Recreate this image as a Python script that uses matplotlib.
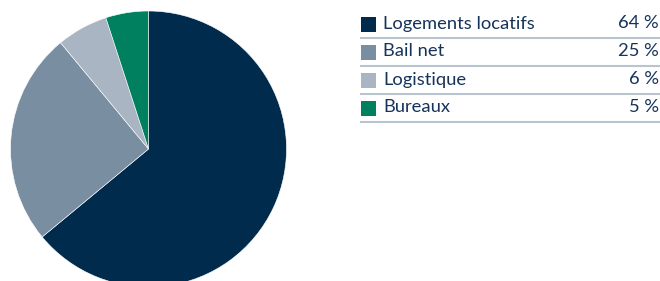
import matplotlib.pyplot as plt
from matplotlib.patches import Rectangle
from matplotlib.lines import Line2D

labels = ["Logements locatifs", "Bail net", "Logistique", "Bureaux"]
shares = [64, 25, 6, 5]
colors = ["#002B4C", "#7A8EA2", "#A9B5C2", "#00805F"]
text_color = "#16335A"

W, H = 660, 281
fig = plt.figure(figsize=(W / 100, H / 100), dpi=100)

# pie: centre (148.5, 149) px from top-left, radius 138 px
r = 138
cx, cy = 148.5, H - 149
ax = fig.add_axes([(cx - r) / W, (cy - r) / H, 2 * r / W, 2 * r / H])
ax.pie(shares, colors=colors, startangle=90, counterclock=False,
       radius=1, wedgeprops=dict(linewidth=0.4, edgecolor="white"))
ax.set_xlim(-1, 1)
ax.set_ylim(-1, 1)
ax.set_aspect("equal")
ax.axis("off")

# legend table drawn by hand
row_h = 28
y0 = 24.5
for i, (lab, val, col) in enumerate(zip(labels, shares, colors)):
    yc = y0 + i * row_h
    fig.patches.append(Rectangle(((361) / W, (H - yc - 7.5) / H), 15 / W, 15 / H,
                                 transform=fig.transFigure, facecolor=col,
                                 edgecolor="none"))
    fig.text(383 / W, (H - yc + 1) / H, lab, fontsize=13.2, family="Lato",
             color=text_color, va="center", ha="left")
    fig.text(659 / W, (H - yc + 1) / H, f"{val} %", fontsize=13.2, family="Lato",
             color=text_color, va="center", ha="right")
    ly = H - (yc + 13.5)
    fig.lines.append(Line2D([361 / W, 660 / W], [ly / H, ly / H],
                            transform=fig.transFigure, color="#B9C4D0", lw=1.5))

fig.savefig("out.png", dpi=100)
